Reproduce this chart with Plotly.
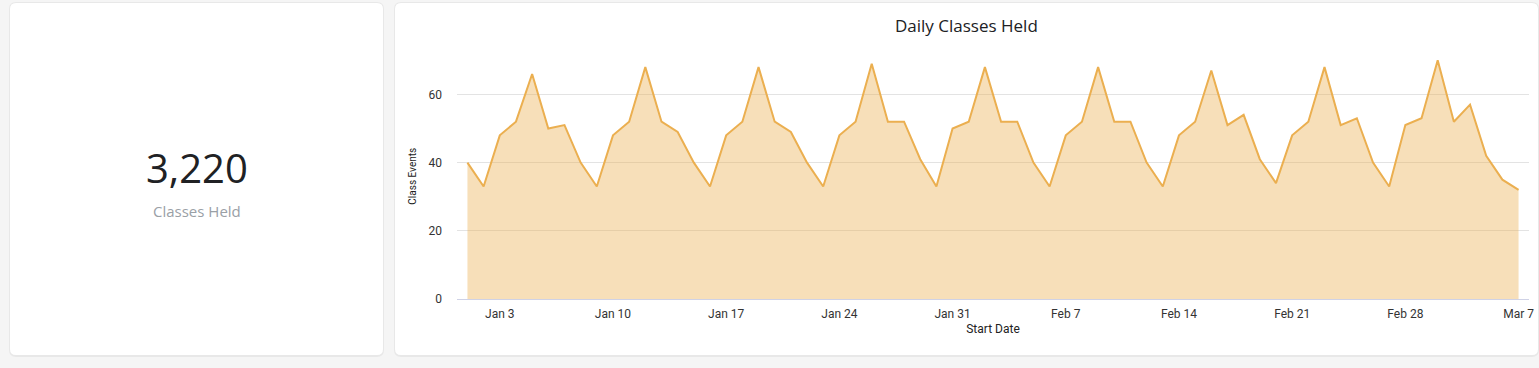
import plotly.graph_objects as go
import pandas as pd

W, H = 1539, 368

start_date = "2021-01-01"
class_events = [
    40, 33, 48, 52, 66, 50, 51, 40, 33, 48, 52, 68, 52, 49, 40, 33, 48, 52, 68, 52, 49,
    40, 33, 48, 52, 69, 52, 52, 41, 33, 50, 52, 68, 52, 52, 40, 33, 48, 52, 68, 52, 52, 40, 33, 48,
    52, 67, 51, 54, 41, 34, 48, 52, 68, 51, 53, 40, 33, 51, 53, 70, 52, 57, 42, 35, 32,
]
dates = pd.date_range(start_date, periods=len(class_events), freq="D")
total_classes = sum(class_events)

kpi_label = "Classes Held"
chart_title = "Daily Classes Held"
x_title = "Start Date"
y_title = "Class Events"
y_ticks = [0, 20, 40, 60]

LINE = "rgb(235,175,80)"
FILL = "rgba(235,175,80,0.4)"


def px(x):
    return x / W


def py(y):
    return 1 - y / H


def rrect(x0, y0, x1, y1, r):
    pts = [
        f"M {px(x0 + r)},{py(y0)}",
        f"L {px(x1 - r)},{py(y0)}",
        f"Q {px(x1)},{py(y0)} {px(x1)},{py(y0 + r)}",
        f"L {px(x1)},{py(y1 - r)}",
        f"Q {px(x1)},{py(y1)} {px(x1 - r)},{py(y1)}",
        f"L {px(x0 + r)},{py(y1)}",
        f"Q {px(x0)},{py(y1)} {px(x0)},{py(y1 - r)}",
        f"L {px(x0)},{py(y0 + r)}",
        f"Q {px(x0)},{py(y0)} {px(x0 + r)},{py(y0)}",
        "Z",
    ]
    return " ".join(pts)


shapes = []
for (x0, y0, x1, y1) in [(10, 3, 383, 355), (395, 3, 1538, 355)]:
    shapes.append(dict(type="path", xref="paper", yref="paper", layer="below",
                       path=rrect(x0 - 1, y0 - 1, x1 + 1, y1 + 2, 7),
                       fillcolor="rgba(0,0,0,0.05)", line=dict(width=0)))
    shapes.append(dict(type="path", xref="paper", yref="paper", layer="below",
                       path=rrect(x0, y0, x1, y1, 6),
                       fillcolor="white", line=dict(width=0)))

fig = go.Figure()
fig.add_trace(go.Scatter(
    x=dates, y=class_events, mode="lines", fill="tozeroy",
    line=dict(color=LINE, width=2), fillcolor=FILL, hoverinfo="skip",
))

plot_left, plot_right, plot_top, plot_bottom = 457, 1529, 53.5, 299

fig.update_layout(
    width=W, height=H, autosize=False,
    margin=dict(l=0, r=0, t=0, b=0),
    paper_bgcolor="#f5f5f5", plot_bgcolor="white",
    showlegend=False,
    shapes=shapes,
    font=dict(family="Roboto", size=12, color="#333333"),
    xaxis=dict(
        domain=[px(plot_left), px(plot_right)],
        range=["2020-12-31 08:30", "2021-03-07 15:30"],
        type="date", tick0="2021-01-03", dtick=7 * 86400000,
        tickformat="%b %-d", showgrid=False, zeroline=False,
        showline=True, linecolor="#cfd2e6", linewidth=1,
        ticks="", automargin=False, ticklabelstandoff=4,
        tickfont=dict(family="Roboto", size=12, color="#333333"),
        title=dict(text=x_title, standoff=4,
                   font=dict(family="Roboto", size=12, color="#222222")),
    ),
    yaxis=dict(
        domain=[py(plot_bottom), py(plot_top)],
        range=[0, 72], tickvals=y_ticks, showgrid=True,
        gridcolor="#e3e3e3", gridwidth=1, zeroline=False, showline=False,
        ticks="", automargin=False, ticklabelstandoff=14,
        tickfont=dict(family="Roboto", size=12, color="#333333"),
        title=dict(text=y_title, standoff=10,
                   font=dict(family="Roboto", size=10, color="#222222")),
    ),
    annotations=[
        dict(text=f"{total_classes:,}", xref="paper", yref="paper",
             x=px(196.5), y=py(167), xanchor="center", yanchor="middle",
             showarrow=False,
             font=dict(family="Open Sans", size=40, color="#202124")),
        dict(text=kpi_label, xref="paper", yref="paper",
             x=px(196.5), y=py(211), xanchor="center", yanchor="middle",
             showarrow=False,
             font=dict(family="Open Sans", size=15, color="#9aa0a6")),
        dict(text=chart_title, xref="paper", yref="paper",
             x=px(966.5), y=py(26), xanchor="center", yanchor="middle",
             showarrow=False,
             font=dict(family="Open Sans", size=17, color="#202124")),
    ],
)

fig.write_html(
    "out.html",
    config=dict(displayModeBar=False, staticPlot=True),
    post_script="document.body.style.margin='0';document.body.style.overflow='hidden';",
)
